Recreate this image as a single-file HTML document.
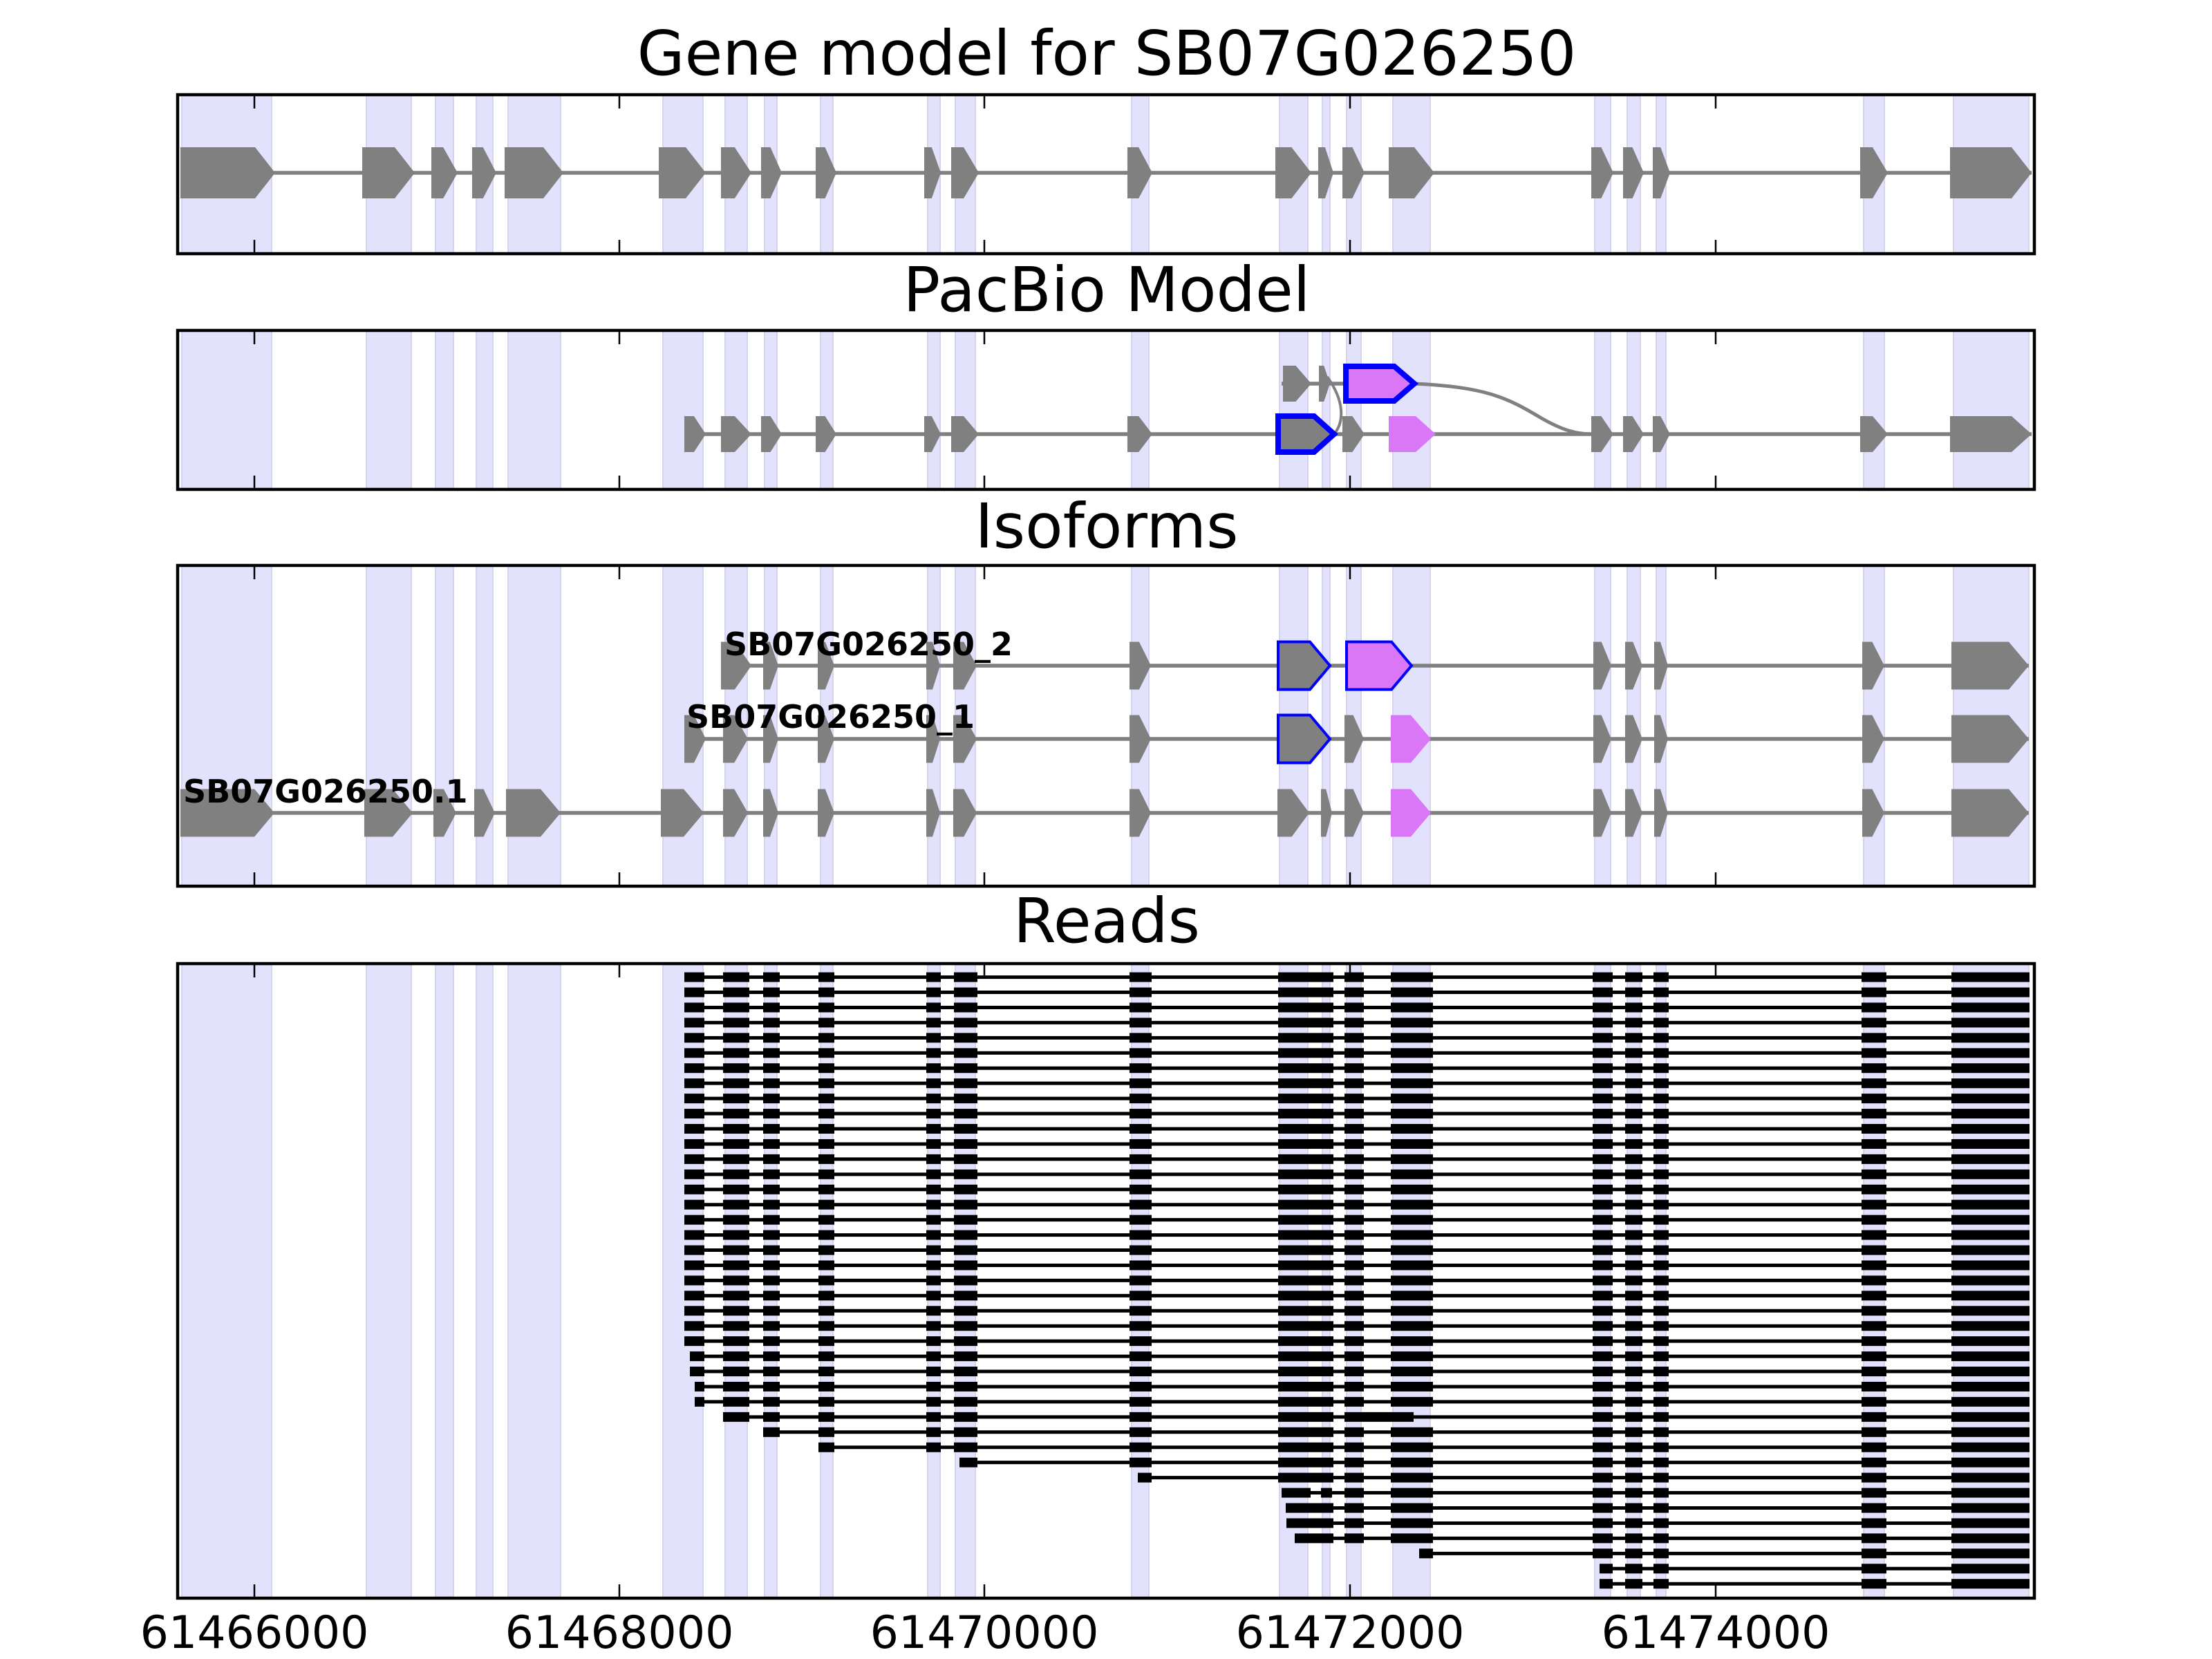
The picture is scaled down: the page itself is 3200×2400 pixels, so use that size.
<!DOCTYPE html>
<html><head><meta charset="utf-8"><style>
html,body{margin:0;padding:0;background:#fff;}
svg{display:block;}
text{font-family:"DejaVu Sans","Liberation Sans",sans-serif;}
</style></head><body>
<svg id="s" width="3200" height="2400" xmlns="http://www.w3.org/2000/svg">
<text x="1601" y="108" font-size="89" text-anchor="middle">Gene model for SB07G026250</text>
<text x="1601" y="450" font-size="89" text-anchor="middle">PacBio Model</text>
<text x="1601" y="792" font-size="89" text-anchor="middle">Isoforms</text>
<text x="1601" y="1363" font-size="89" text-anchor="middle">Reads</text>
<text x="368" y="2384" font-size="65" text-anchor="middle">61466000</text>
<text x="896" y="2384" font-size="65" text-anchor="middle">61468000</text>
<text x="1424" y="2384" font-size="65" text-anchor="middle">61470000</text>
<text x="1953" y="2384" font-size="65" text-anchor="middle">61472000</text>
<text x="2482" y="2384" font-size="65" text-anchor="middle">61474000</text>
<g id="g"></g>
<text x="1048" y="948" font-size="46" font-weight="bold">SB07G026250_2</text>
<text x="993" y="1053" font-size="46" font-weight="bold">SB07G026250_1</text>
<text x="265" y="1161" font-size="46" font-weight="bold">SB07G026250.1</text>
</svg>
<script>
var out=[];
var L=257,R=2943;
var panels=[[137,367],[478,708],[818,1282],[1394,2312]];
var bands=[[263,393],[530,595],[630,656],[689,713],[735,811],[959,1017],[1049,1081],[1106,1124],[1187,1205],[1342,1360],[1382,1411],[1637,1662],[1851,1892],[1913,1924],[1948,1969],[2015,2069],[2307,2330],[2354,2373],[2396,2410],[2696,2726],[2826,2935]];
panels.forEach(function(p){
 bands.forEach(function(b){
  out.push('<rect x="'+b[0]+'" y="'+p[0]+'" width="'+(b[1]-b[0])+'" height="'+(p[1]-p[0])+'" fill="#e2e2fd" stroke="#d4d4ee" stroke-width="2"/>');
 });
});
function line(x1,x2,y,c,w){out.push('<line x1="'+x1+'" x2="'+x2+'" y1="'+y+'" y2="'+y+'" stroke="'+c+'" stroke-width="'+w+'"/>');}
function pent(x1,x2,yc,h,fill,stroke,sw){
 var hd=Math.min(29,(x2-x1)*0.55),t=yc-h/2,b=yc+h/2;
 out.push('<polygon points="'+x1+','+t+' '+(x2-hd)+','+t+' '+x2+','+yc+' '+(x2-hd)+','+b+' '+x1+','+b+'" fill="'+fill+'"'+(stroke?' stroke="'+stroke+'" stroke-width="'+sw+'"':'')+'/>');
}
var G='#808080',P='#da77f7',B='#0000ff';
line(261,2939,250,G,5.5);
[[261,398],[524,600],[624,662],[683,718],[730,815],[953,1021],[1043,1087],[1101,1131],[1180,1210],[1337,1361],[1376,1416],[1631,1667],[1845,1897],[1907,1929],[1942,1974],[2009,2075],[2302,2334],[2348,2378],[2391,2416],[2691,2731],[2821,2939]].forEach(function(e){pent(e[0],e[1],250,74,G);});
line(990,2939,628,G,5.5);
line(1854,2046,555,G,5.5);
out.push('<path d="M2046,555 C2150,560 2180,575 2230,605 C2260,622 2280,628 2302,628" fill="none" stroke="'+G+'" stroke-width="5"/>');
out.push('<path d="M1920,545 C1945,580 1945,610 1930,628" fill="none" stroke="'+G+'" stroke-width="4"/>');
[[990,1021],[1043,1087],[1101,1131],[1180,1210],[1337,1361],[1376,1416],[1631,1667]].forEach(function(e){pent(e[0],e[1],628,52,G);});
pent(1849,1930,628,52,G,B,8);
pent(1942,1974,628,52,G);
pent(2009,2077,628,52,P);
[[2302,2334],[2348,2378],[2391,2416],[2691,2731],[2821,2939]].forEach(function(e){pent(e[0],e[1],628,52,G);});
pent(1856,1897,555,52,G);pent(1908,1924,555,52,G);
pent(1947,2046,555,50,P,B,8);
var tail=[[2305,2331],[2351,2376],[2393,2413],[2694,2726],[2823,2935]];
var mid=[[1104,1126],[1183,1207],[1340,1360],[1379,1413],[1634,1665]];
function row(y,ex){ex.forEach(function(e){pent(e[0],e[1],y,69,G);});}
line(1043,2935,963,G,5.5);
row(963,[[1043,1087]].concat(mid));
pent(1849,1924,963,69,G,B,4);pent(1948,2042,963,69,P,B,4);
row(963,tail);
line(990,2935,1069,G,5.5);
row(1069,[[990,1021],[1046,1082]].concat(mid));
pent(1849,1924,1069,69,G,B,4);row(1069,[[1945,1973]]);pent(2012,2070,1069,69,P);
row(1069,tail);
line(261,2935,1176,G,5.5);
row(1176,[[261,397],[527,597],[627,660],[686,716],[732,811],[956,1018],[1046,1082]].concat(mid));
row(1176,[[1848,1894],[1911,1927],[1945,1973]]);pent(2012,2070,1176,69,P);
row(1176,tail);
var full=[[990,1019],[1046,1084],[1104,1128],[1184,1207],[1340,1361],[1380,1414],[1634,1666],[1849,1929],[1945,1973],[2012,2073],[2304,2333],[2351,2376],[2392,2414],[2693,2729],[2823,2936]];
function read(i,bl){
 var y=1413.6+21.94*i;
 line(bl[0][0],bl[bl.length-1][1],y,'#000',5);
 bl.forEach(function(b){out.push('<rect x="'+b[0]+'" y="'+(y-7)+'" width="'+(b[1]-b[0])+'" height="14" fill="#000"/>');});
}
for(var i=0;i<25;i++)read(i,full);
read(25,[[998,1019]].concat(full.slice(1)));
read(26,[[998,1019]].concat(full.slice(1)));
read(27,[[1005,1019]].concat(full.slice(1)));
read(28,[[1005,1019]].concat(full.slice(1)));
read(29,full.slice(1,8).concat([[1945,2045]]).concat(full.slice(10)));
read(30,full.slice(2));
read(31,full.slice(3));
read(32,[[1388,1414]].concat(full.slice(6)));
read(33,[[1646,1666]].concat(full.slice(7)));
read(34,[[1854,1896],[1911,1927]].concat(full.slice(8)));
read(35,[[1860,1929]].concat(full.slice(8)));
read(36,[[1861,1929]].concat(full.slice(8)));
read(37,[[1873,1929]].concat(full.slice(8)));
read(38,[[2053,2073]].concat(full.slice(10)));
read(39,[[2314,2333]].concat(full.slice(11)));
read(40,[[2314,2333]].concat(full.slice(11)));
var ticks=[368,896,1424,1953,2482];
panels.forEach(function(p){
 ticks.forEach(function(t){
  out.push('<line x1="'+t+'" x2="'+t+'" y1="'+p[0]+'" y2="'+(p[0]+20)+'" stroke="#000" stroke-width="2.5"/>');
  out.push('<line x1="'+t+'" x2="'+t+'" y1="'+(p[1]-20)+'" y2="'+p[1]+'" stroke="#000" stroke-width="2.5"/>');
 });
 out.push('<rect x="'+L+'" y="'+p[0]+'" width="'+(R-L)+'" height="'+(p[1]-p[0])+'" fill="none" stroke="#000" stroke-width="4.5"/>');
});
document.getElementById('g').innerHTML=out.join('');
</script>
</body></html>
